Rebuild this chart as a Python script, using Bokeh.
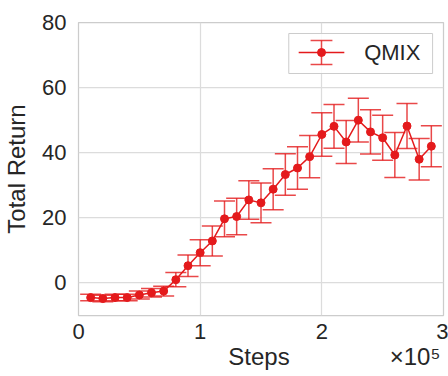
from bokeh.plotting import figure
from bokeh.models import ColumnDataSource, Whisker, TeeHead, FixedTicker, Range1d
from bokeh.core.properties import value
from bokeh.embed import file_html
from bokeh.resources import INLINE

# Training curve: mean total return and its spread at each evaluation step
steps = [10000, 20000, 30000, 40000, 50000, 60000, 70000, 80000, 90000, 100000,
         110000, 120000, 130000, 140000, 150000, 160000, 170000, 180000, 190000, 200000,
         210000, 220000, 230000, 240000, 250000, 260000, 270000, 280000, 290000]
mean_return = [-4.5, -4.8, -4.5, -4.5, -3.7, -3.0, -2.5, 1.0, 5.3, 9.3,
               12.9, 19.7, 20.4, 25.5, 24.6, 28.8, 33.3, 35.3, 38.8, 45.6,
               48.1, 43.3, 50.0, 46.4, 44.6, 39.3, 48.2, 38.0, 42.0]
std_return = [1.0, 1.0, 1.0, 1.0, 1.2, 1.3, 1.5, 2.2, 3.3, 4.0,
              4.6, 5.5, 5.6, 5.9, 6.1, 6.3, 6.4, 6.5, 6.5, 6.7,
              6.7, 6.6, 6.7, 6.8, 6.9, 6.9, 6.9, 6.4, 6.3]
series_name = "QMIX"

x_ticks = [0, 100000, 200000, 300000]
x_tick_labels = ["0", "1", "2", "3"]
y_ticks = [0, 20, 40, 60, 80]
x_title = "Steps"
x_scale_note = "×10⁵"
y_title = "Total Return"
X_START, X_END = 0, 300000
Y_START, Y_END = -10, 80

RED = "#e41a1c"
FONT = "Liberation Sans"
INK = "#262626"
GRID = "#dcdcdc"
EDGE = "#cccccc"

W, H = 448, 376
BORDER_L, BORDER_R, BORDER_T, BORDER_B = 75, 5, 22, 61
FRAME_W = W - BORDER_L - BORDER_R
FRAME_H = H - BORDER_T - BORDER_B

src = ColumnDataSource(dict(
    x=steps,
    y=mean_return,
    lower=[m - s for m, s in zip(mean_return, std_return)],
    upper=[m + s for m, s in zip(mean_return, std_return)],
))

p = figure(width=W, height=H, x_range=Range1d(X_START, X_END), y_range=Range1d(Y_START, Y_END),
           output_backend="svg", toolbar_location=None,
           min_border_left=BORDER_L, min_border_right=BORDER_R,
           min_border_top=BORDER_T, min_border_bottom=BORDER_B)
p.background_fill_color = "white"
p.border_fill_color = "white"
p.outline_line_color = EDGE
p.outline_line_width = 1.25

# x title carries the scale note at its right end; non-breaking spaces keep
# "Steps" centred under the frame
NBSP = "\u00a0"
p.xaxis.axis_label = NBSP * 22 + x_title + NBSP * 15 + x_scale_note
p.yaxis.axis_label = y_title

# axes: seaborn-like, no spines or tick marks
p.xaxis.ticker = FixedTicker(ticks=x_ticks)
p.xaxis.major_label_overrides = {t: s for t, s in zip(x_ticks, x_tick_labels)}
p.yaxis.ticker = FixedTicker(ticks=y_ticks)
for ax in (p.xaxis, p.yaxis):
    ax.axis_line_color = None
    ax.major_tick_line_color = None
    ax.minor_tick_line_color = None
    ax.major_tick_out = 0
    ax.major_tick_in = 0
    ax.major_label_text_font = FONT
    ax.major_label_text_font_size = "22px"
    ax.major_label_text_color = INK
    ax.axis_label_text_font = FONT
    ax.axis_label_text_font_size = "24px"
    ax.axis_label_text_font_style = "normal"
    ax.axis_label_text_color = INK
p.yaxis.major_label_standoff = 12
p.xaxis.major_label_standoff = 8
p.yaxis.axis_label_standoff = 9
p.xaxis.axis_label_standoff = 1

p.xgrid.ticker = FixedTicker(ticks=x_ticks)
p.ygrid.ticker = FixedTicker(ticks=y_ticks)
p.grid.grid_line_color = GRID
p.grid.grid_line_width = 1.25

# error bars with caps
whisk = Whisker(source=src, base="x", upper="upper", lower="lower", dimension="height",
                line_color=RED, line_width=1.5, line_alpha=0.8, level="underlay",
                upper_head=TeeHead(size=21, line_color=RED, line_width=1.5, line_alpha=0.8),
                lower_head=TeeHead(size=21, line_color=RED, line_width=1.5, line_alpha=0.8))
p.add_layout(whisk)

p.line("x", "y", source=src, line_color=RED, line_width=1.5)
p.scatter("x", "y", source=src, size=8, fill_color=RED, line_color=RED)


# legend box in the upper right, laid out in pixels from the canvas corner
def fx(px):
    return X_START + (px - BORDER_L) / FRAME_W * (X_END - X_START)


def fy(py):
    return Y_END - (py - BORDER_T) / FRAME_H * (Y_END - Y_START)


box_l, box_r, box_t, box_b = 287, 432, 33, 73
sw_x, sw_y, sw_half, bar_half, cap_half = 320, 52, 23, 12, 11

p.quad(left=[fx(box_l)], right=[fx(box_r)], top=[fy(box_t)], bottom=[fy(box_b)],
       fill_color="white", fill_alpha=0.85, line_color=EDGE, line_width=1)
# swatch: line, error bar with caps, marker
p.segment(x0=[fx(sw_x - sw_half), fx(sw_x), fx(sw_x - cap_half), fx(sw_x - cap_half)],
          y0=[fy(sw_y), fy(sw_y - bar_half), fy(sw_y - bar_half), fy(sw_y + bar_half)],
          x1=[fx(sw_x + sw_half), fx(sw_x), fx(sw_x + cap_half), fx(sw_x + cap_half)],
          y1=[fy(sw_y), fy(sw_y + bar_half), fy(sw_y - bar_half), fy(sw_y + bar_half)],
          line_color=RED, line_width=1.5, line_alpha=[1, 0.8, 0.8, 0.8])
p.scatter(x=[fx(sw_x)], y=[fy(sw_y)], size=8, fill_color=RED, line_color=RED)
p.text(x=[fx(363)], y=[fy(sw_y)], text=[series_name], text_baseline="middle", text_align="left",
       text_font=value(FONT), text_font_size=value("22px"), text_color=INK)

open("out.html", "w").write(file_html(p, INLINE))
